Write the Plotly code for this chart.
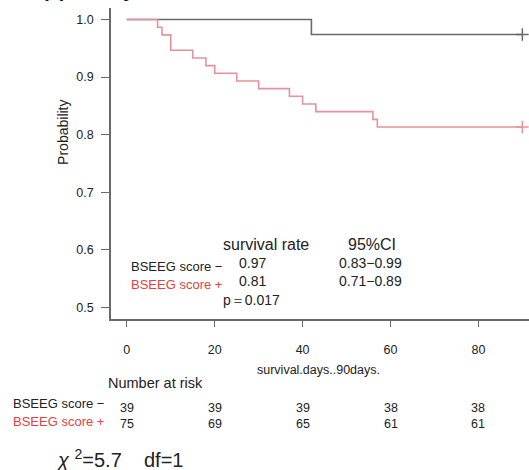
import plotly.graph_objects as go

# ---- data ----
neg_times = [0, 42, 90]
neg_surv = [1.0, 0.974, 0.974]
pos_times = [0, 7, 8, 10, 15, 18, 20, 25, 30, 37, 40, 43, 56, 57, 90]
pos_surv = [1.0, 0.9867, 0.9733, 0.9467, 0.9333, 0.92, 0.9067, 0.8933, 0.88,
            0.8667, 0.8533, 0.84, 0.8267, 0.8133, 0.8133]
risk_times = [0, 20, 40, 60, 80]
risk_neg = [39, 39, 39, 38, 38]
risk_pos = [75, 69, 65, 61, 61]
group_labels = ["BSEEG score \u2212", "BSEEG score +"]
rates = ["0.97", "0.81"]
cis = ["0.83\u22120.99", "0.71\u22120.89"]

GREY = "#6a6a6a"
PINK = "#e8919c"
RED = "#e8403f"
TXT = "#222222"
FONT = "Liberation Sans, Arial, sans-serif"

W, H = 529, 470
L, R, T, B = 111, 0, 8, 470 - 319.3
PW, PH = W - L - R, H - T - B


def px(x):
    return (x - L) / PW


def py(y):
    return (H - B - y) / PH


fig = go.Figure()
fig.add_trace(go.Scatter(x=neg_times, y=neg_surv, mode="lines", line_shape="hv",
                         line=dict(color=GREY, width=1.6), showlegend=False))
fig.add_trace(go.Scatter(x=pos_times, y=pos_surv, mode="lines", line_shape="hv",
                         line=dict(color=PINK, width=1.6), showlegend=False))
fig.add_trace(go.Scatter(x=[neg_times[-1]], y=[neg_surv[-1]], mode="markers",
                         marker=dict(symbol="cross-thin", size=9,
                                     line=dict(color=GREY, width=1.5)),
                         showlegend=False))
fig.add_trace(go.Scatter(x=[pos_times[-1]], y=[pos_surv[-1]], mode="markers",
                         marker=dict(symbol="cross-thin", size=9,
                                     line=dict(color=PINK, width=1.5)),
                         showlegend=False))

ann = []


def A(text, x, y, size=13, color=TXT, xanchor="left", yanchor="middle", xref="paper", **kw):
    ann.append(dict(text=text, x=x, y=y, xref=xref, yref="paper", showarrow=False,
                    xanchor=xanchor, yanchor=yanchor,
                    font=dict(family=FONT, size=size, color=color), **kw))


# cut-off title (only its lower edge shows, as in the reference)
A("<b>(a) 90 day</b>", px(40), py(3), size=20, color="#111111", yanchor="bottom")

# y axis title
A("Probability", px(63), py(133), size=14, xanchor="center", textangle=-90)

# in-plot legend table
A("survival rate", px(221), py(245), size=16)
A("95%CI", px(346), py(245), size=16)
A(group_labels[0], px(129), py(267), size=13)
A(group_labels[1], px(129), py(285), size=13, color=RED)
A(rates[0], px(237), py(263), size=14)
A(rates[1], px(237), py(281), size=14)
A(cis[0], px(337), py(263), size=14)
A(cis[1], px(337), py(281), size=14)
A("p\uff1d0.017", px(221), py(300), size=14)

# axis title and risk table
A("survival.days..90days.", px(318), py(370), size=12.5, xanchor="center")
A("Number at risk", px(106), py(383), size=14.5)
A(group_labels[0], px(11), py(404), size=13)
A(group_labels[1], px(11), py(422), size=13, color=RED)
for t, n1, n2 in zip(risk_times, risk_neg, risk_pos):
    A(str(n1), t, py(408), size=12.5, xanchor="center", xref="x")
    A(str(n2), t, py(424), size=12.5, xanchor="center", xref="x")

A("<i>\u03c7</i> <sup>2</sup>=5.7    df=1", px(54), py(459), size=20)

fig.update_layout(
    width=W, height=H,
    margin=dict(l=L, r=R, t=T, b=B, pad=0),
    paper_bgcolor="white", plot_bgcolor="white",
    annotations=ann,
    xaxis=dict(range=[-3.6, (W - L) / 4.395 - 3.6], tickvals=risk_times,
               showgrid=False, zeroline=False, showline=True, linecolor=GREY,
               linewidth=1.5, ticks="outside", ticklen=6, tickwidth=1.3,
               tickcolor=GREY, ticklabelstandoff=12,
               tickfont=dict(family=FONT, size=12.5, color=TXT)),
    yaxis=dict(range=[0.48, 1.02], tickvals=[0.5, 0.6, 0.7, 0.8, 0.9, 1.0],
               ticktext=["0.5", "0.6", "0.7", "0.8", "0.9", "1.0"],
               showgrid=False, zeroline=False, showline=True, linecolor=GREY,
               linewidth=1.5, ticks="outside", ticklen=8, tickwidth=1.3,
               tickcolor=GREY, ticklabelstandoff=5,
               tickfont=dict(family=FONT, size=12.5, color=TXT)),
)

fig.write_html("out.html")
